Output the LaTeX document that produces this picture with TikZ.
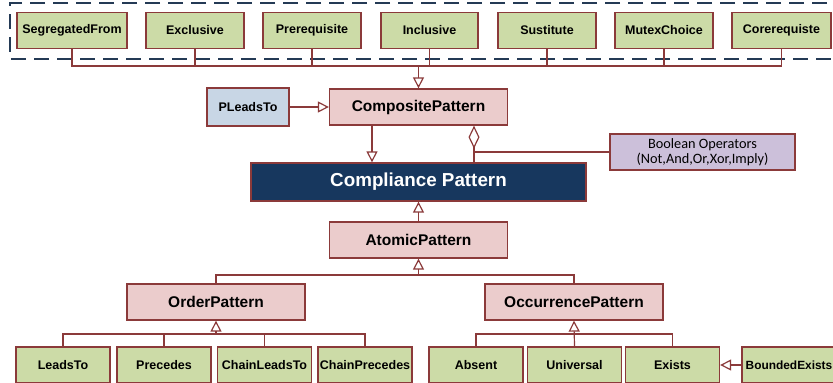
\documentclass[tikz,border=0pt]{standalone}
\usepackage{fontspec}
\setmainfont{Liberation Sans}
\newfontfamily\opsfont{Carlito}
\usetikzlibrary{arrows.meta,positioning,calc}
\definecolor{brd}{HTML}{8B3A3A}
\definecolor{leafc}{HTML}{CCDBA7}
\definecolor{patc}{HTML}{EBCCCC}
\definecolor{extc}{HTML}{C8D6E5}
\definecolor{opsc}{HTML}{CCC0DA}
\definecolor{navy}{HTML}{17375E}
\definecolor{frm}{HTML}{243A55}
\tikzset{
leaf/.style={draw=brd,fill=leafc,line width=1.3pt,inner sep=1pt,minimum width=#1pt,minimum height=36pt,font=\bfseries\fontsize{12.5}{14}\selectfont},
leaf/.default=94,
pat/.style={draw=brd,fill=patc,line width=1.3pt,inner sep=1pt,minimum width=178pt,minimum height=36pt,font=\bfseries\fontsize{15.5}{17}\selectfont},
line/.style={-,draw=brd,line width=1.2pt},
inh/.style={line,-{Triangle[open,length=11pt,width=11pt]}},
frame/.style={draw=frm,line width=2pt,dash pattern=on 15pt off 8pt},
}

\begin{document}
\begin{tikzpicture}[x=1pt,y=-1pt]
  \useasboundingbox (0,0) rectangle (833,383);
  \draw[frame] (850,3) -- (10,3) -- (10,59) -- (850,59);

  % top row
  \draw foreach \i/\x/\w/\t in {1/72/110/SegregatedFrom,2/195/98/Exclusive,3/312/98/Prerequisite,4/429.5/97/Inclusive,5/547/98/Sustitute,6/664/98/MutexChoice,7/781.5/99/Corerequiste}
  { (\x,30.5) node[leaf=\w] (t\i) {\t} };
  \coordinate (bus) at (418.5,66);

  % middle
  \node[pat] (comp) at (418.5,107) {CompositePattern};
  \node[draw=brd,fill=extc,line width=1.3pt,minimum width=82pt,minimum height=38pt,inner sep=1pt,
    font=\bfseries\fontsize{12.5}{14}\selectfont] (plt) at (248,107) {PLeadsTo};
  \node[draw=brd,fill=navy,text=white,line width=1.3pt,minimum width=335pt,minimum height=38pt,
    font=\bfseries\fontsize{18.8}{21}\selectfont] (core) at (418.5,182) {Compliance Pattern};
  \node[draw=brd,fill=opsc,line width=1.3pt,minimum width=185pt,minimum height=36pt,inner sep=1pt,align=center,
    font=\opsfont\fontsize{14.3}{15}\selectfont] (ops) at (702.5,152) {Boolean Operators\\(Not,And,Or,Xor,Imply)};
  \coordinate (jB) at (474,152);
  \node[pat] (atom) at (418.5,240) {AtomicPattern};
  \node[pat] (ord) at (216,302) {OrderPattern};
  \node[pat] (occ) at (574,302) {OccurrencePattern};
  \coordinate (jA) at (418.5,275);

  % bottom row
  \draw foreach \i/\x/\t in {1/63/LeadsTo,2/164/Precedes,3/264.5/ChainLeadsTo,4/365/ChainPrecedes,5/476/Absent,6/574.5/Universal,7/672.5/Exists}
  { (\x,365) node[leaf] (b\i) {\t} };
  \node[leaf,font=\bfseries\fontsize{11.9}{14}\selectfont] (b8) at (789,365) {BoundedExists};
  \coordinate (jO) at (216,334);
  \coordinate (jC) at (574,334);

  \draw[line] (t1.south) |- (bus) -| (t7.south);
  \draw[line] foreach \i in {2,...,6} {(t\i.south) -- (t\i.south |- bus)};
  \draw[inh] (bus) -- (comp.north);
  \draw[inh] (plt.east) -- (comp.west);
  \draw[inh] ([xshift=-46.5pt]comp.south) -- ([xshift=-46.5pt]comp.south |- core.north);
  \draw[line,{Diamond[open,length=23pt,width=11pt]}-] (comp.south -| jB) -- (core.north -| jB);
  \draw[line] (jB) -- (ops.west);
  \draw[inh] (atom.north) -- (atom.north |- core.south);
  \draw[line] (ord.north) |- (jA) -| (occ.north);
  \draw[inh] (jA) -- (atom.south);
  \draw[line] (b1.north) |- (jO) -| (b4.north);
  \draw[line] foreach \i in {2,3} {(b\i.north) -- (b\i.north |- jO)};
  \draw[inh] (jO) -- (ord.south);
  \draw[line] (b5.north) |- (jC) -| (b7.north);
  \draw[inh] (b6.north) -- (occ.south);
  \draw[inh] (b8.west) -- (b7.east);
\end{tikzpicture}
\end{document}
